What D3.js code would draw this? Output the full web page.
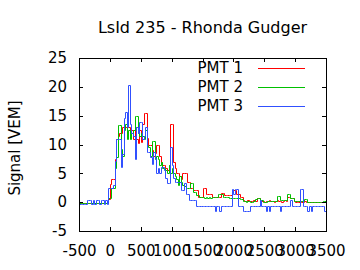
<!DOCTYPE html>
<html>
<head>
<meta charset="utf-8">
<script src="https://cdn.jsdelivr.net/npm/d3@7"></script>
<style>
  body { margin: 0; background: #fff; }
  text { font-family: "DejaVu Sans", sans-serif; fill: #000; }
</style>
</head>
<body>
<svg id="trace" width="360" height="270"></svg>
<script>
// trace values, one per 25 ns bin starting at -500 ns
var binStart = -500, binWidth = 25;

var pmt1 = [
  -0.1, -0.1, -0.1, -0.1, -0.1, -0.1, -0.1, -0.1, -0.1, -0.1, -0.1, -0.1, -0.1, -0.1, -0.1, -0.1, -0.1, -0.1, -0.1,
  0.6, 3.2, 4.1, 4.1, 7.5, 10.9, 11.5, 12.0, 12.0, 13.0, 13.0, 13.0, 13.5, 13.0, 12.0, 12.5, 11.0, 13.0, 11.0, 10.2,
  12.5, 10.5, 13.5, 15.4, 15.4, 11.1, 10.0, 10.0, 9.0, 8.0, 8.5, 10.0, 10.0, 8.0, 7.0, 6.5, 6.5, 6.0, 5.5, 6.5,
  13.6, 13.6, 7.0, 6.0, 5.0, 5.0, 4.5, 4.0, 5.0, 5.0, 5.0, 3.5, 3.5,
  2.5, 2.5, 2.1, 2.1, 2.1, 0.9, 0.9, 0.9, 2.4, 2.4, 1.4, 1.4, 1.4, 1.4, 0.9, 0.9, 0.9, 0.9, 0.9, 0.9, 1.6, 1.6,
  1.2, 1.2, 1.2, 1.2, 1.2, 2.1, 2.1, 2.1, 1.4, 1.4, 0.9, 0.9,
  0.3, 0.2, 0.2, 0.3, 0.2, 0.2, 0.2, 0.3, 0.2, 0.75, 0.75, 0.3, 0.2, 0.2, 0.1, 0.2, 0.2, 0.3, 0.2, 0.2, 0.1, 0.2,
  0.3, 0.2, 0.2, 0.1, 0.2, 0.3, 0.2, 0.9, 0.9, 0.7, 0.7, 0.2, 0.1, 0.2, 0.1, 0.2, 0.1, 0.1, 0.2, 0.1, 0.0, 0.1,
  0.0, 0.1, 0.0, 0.1, 0.1, 0.0, 0.1, 0.0, 0.1, 0.0
];

var pmt2 = [
  -0.1, -0.1, -0.1, -0.1, -0.1, -0.1, -0.1, -0.1, -0.1, -0.1, -0.1, -0.1, -0.1, -0.1, -0.1, -0.1, -0.1, -0.1, -0.1,
  0.7, 0.7, 2.4, 2.4, 6.0, 7.9, 13.3, 13.3, 9.3, 8.0, 12.5, 13.5, 11.0, 12.5, 11.0, 12.0, 12.5, 15.0, 15.0, 12.0,
  11.5, 12.0, 11.5, 11.0, 12.5, 10.0, 9.5, 8.0, 10.6, 10.6, 7.5, 8.0, 7.5, 6.5, 7.0, 6.0, 6.0, 5.5, 5.0, 6.4,
  5.0, 6.0, 5.0, 4.5, 4.0, 3.0, 4.5, 3.5, 3.0, 2.8, 2.5, 2.5, 2.5,
  3.4, 3.4, 1.8, 1.8, 1.2, 1.2, 0.9, 0.9, 0.9, 0.8, 0.9, 0.8, 0.9, 0.8, 0.9, 0.9, 0.9, 0.9, 1.5, 1.5, 1.5, 0.9,
  0.9, 0.9, 0.9, 0.8, 0.8, 0.8, 0.8, 0.8, 0.75, 0.75, 0.5, 0.5,
  0.2, 0.2, 0.1, 0.2, 0.2, 0.1, 0.1, 0.2, 0.5, 0.75, 0.75, 0.35, 0.35, 0.0, 0.0, 0.0, 0.2, 0.2, 0.2, 0.2, 0.2, 0.2,
  1.0, 1.0, 0.35, 0.35, 0.35, 0.35, 0.35, 1.5, 1.5, 0.75, 0.75, 0.2, 0.2, 0.2, 0.2, 0.2, 0.2, 0.2, 0.6, 0.6,
  0.0, 0.0, 0.0, 0.0, 0.0, 0.0, 0.0, 0.0, 0.0, 0.0, 0.2, 0.2
];

var pmt3 = [
  -0.35, -0.35, -0.35, -0.35, -0.35,
  0.35, 0.35, 0.35, -0.35, 0.35, -0.35, 0.35, 0.35, -0.35, 0.35, 0.35, -0.35, 0.35, -0.35,
  2.4, 2.4, 2.4, 3.0, 7.2, 10.9, 10.9, 10.9, 6.1, 8.4, 14.6, 15.6, 13.0, 20.4, 13.5, 12.0, 11.4, 7.4, 13.0, 12.0,
  13.9, 13.9, 11.0, 11.5, 13.0, 8.7, 8.7, 7.9, 6.7, 8.7, 7.6, 5.0, 5.9, 5.0, 6.1, 6.1, 5.5, 4.2, 3.3, 3.3,
  9.6, 6.4, 4.2, 3.5, 3.5, 3.5, 3.5, 2.1, 2.1, 3.3, 1.5, 1.5, 0.35, 0.35, 0.35, 0.35, 0.35,
  -0.7, -0.7, -0.7, -0.7, -0.7, -0.7, -0.7, -0.7, -0.7, -0.7, -0.7, -0.7,
  -1.6, -0.7, -0.7, -1.6,
  -0.7, -0.7, -0.7, -0.7, -0.7, -0.7, -0.7,
  2.2, 1.5, 2.2, 2.2,
  -0.7, -0.7, -0.7,
  -1.6, -1.6, -1.6, -1.6, -1.6,
  -0.7, -0.7, -0.7, -0.7, -0.7, -0.7,
  0.35,
  -0.7, -0.7, -0.7,
  -1.6, -0.7, -1.6,
  -0.7, -0.7, -0.7, -0.7, -0.7, -0.7,
  -1.6,
  -0.7, -0.7, -0.7, -0.7, -0.7, -0.7,
  0.35,
  -0.7, -0.7, -0.7, -0.7, -0.7,
  2.2, 2.2,
  -0.7, -0.7, -0.7,
  -1.6, -0.7, -1.6,
  -0.7, -0.7, -0.7, -0.7, -0.7, -0.7, -0.7, -0.7,
  -1.6
];

var seriesNames = ["PMT 1", "PMT 2", "PMT 3"];
var seriesColors = ["#ff0000", "#00c000", "#3050ff"];
var xTicks = [-500, 0, 500, 1000, 1500, 2000, 2500, 3000, 3500];
var yTicks = [-5, 0, 5, 10, 15, 20, 25];

function trace_plot() {
    var svg = d3.select("#trace");
    var margin = {top: 58, right: 34, bottom: 39, left: 79};
    var width = 360 - margin.left - margin.right;
    var height = 270 - margin.top - margin.bottom;

    var g = svg.append("g")
        .attr("transform", "translate(" + margin.left + "," + margin.top + ")");

    var x = d3.scaleLinear().domain([-500, 3500]).range([0, width]),
        y = d3.scaleLinear().domain([-5, 25]).range([height, 0]);

    g.append("defs").append("clipPath").attr("id", "clip")
        .append("rect").attr("width", width).attr("height", height);

    // step traces, PMT 1 drawn first, PMT 3 on top
    var line = d3.line()
        .x(function(d) { return Math.round(x(d[0])) + 0.5; })
        .y(function(d) { return Math.round(y(d[1])) + 0.5; })
        .curve(d3.curveStepAfter);

    [pmt1, pmt2, pmt3].forEach(function(vals, k) {
        var pts = vals.map(function(v, i) { return [binStart + i * binWidth, v]; });
        pts.push([binStart + vals.length * binWidth, vals[vals.length - 1]]);
        g.append("path")
            .datum(pts)
            .attr("clip-path", "url(#clip)")
            .attr("fill", "none")
            .attr("stroke", seriesColors[k])
            .attr("stroke-width", 1)
            .attr("d", line);
    });

    // axes: ticks inward, mirrored on top and right
    var tl = 4;
    var plain = function(d) { return String(d); };
    g.append("g")
        .attr("transform", "translate(0," + height + ")")
        .call(d3.axisBottom(x).tickValues(xTicks).tickSize(-tl).tickPadding(14).tickFormat(plain))
        .call(function(a) { a.select(".domain").remove(); });
    g.append("g")
        .call(d3.axisTop(x).tickValues(xTicks).tickSize(-tl).tickFormat(""))
        .call(function(a) { a.select(".domain").remove(); });
    g.append("g")
        .call(d3.axisLeft(y).tickValues(yTicks).tickSize(-tl).tickPadding(12).tickFormat(plain))
        .call(function(a) { a.select(".domain").remove(); });
    g.append("g")
        .attr("transform", "translate(" + width + ",0)")
        .call(d3.axisRight(y).tickValues(yTicks).tickSize(-tl).tickFormat(""))
        .call(function(a) { a.select(".domain").remove(); });

    g.selectAll(".tick line").attr("stroke", "#000").attr("shape-rendering", "crispEdges");
    g.selectAll(".tick text").style("font-size", "15px").attr("fill", "#000")
        .style("font-family", "DejaVu Sans, sans-serif");

    g.append("rect")
        .attr("x", 0.5).attr("y", 0.5)
        .attr("width", width).attr("height", height)
        .attr("fill", "none").attr("stroke", "#000").attr("stroke-width", 1)
        .attr("shape-rendering", "crispEdges");

    // legend
    seriesNames.forEach(function(name, k) {
        var ly = 10 + k * 19;
        g.append("text")
            .attr("x", 164)
            .attr("y", ly)
            .attr("dy", "0.36em")
            .attr("text-anchor", "end")
            .style("font-size", "15px")
            .text(name);
        g.append("line")
            .attr("x1", 179).attr("x2", 226)
            .attr("y1", ly + 0.5).attr("y2", ly + 0.5)
            .attr("stroke", seriesColors[k])
            .attr("stroke-width", 1);
    });

    svg.append("text")
        .attr("x", margin.left + width / 2)
        .attr("y", 33)
        .attr("text-anchor", "middle")
        .style("font-size", "16px")
        .text("LsId 235 - Rhonda Gudger");

    svg.append("text")
        .attr("transform", "translate(20,148) rotate(-90)")
        .attr("text-anchor", "middle")
        .style("font-size", "15px")
        .text("Signal [VEM]");
}

trace_plot();
</script>
</body>
</html>
